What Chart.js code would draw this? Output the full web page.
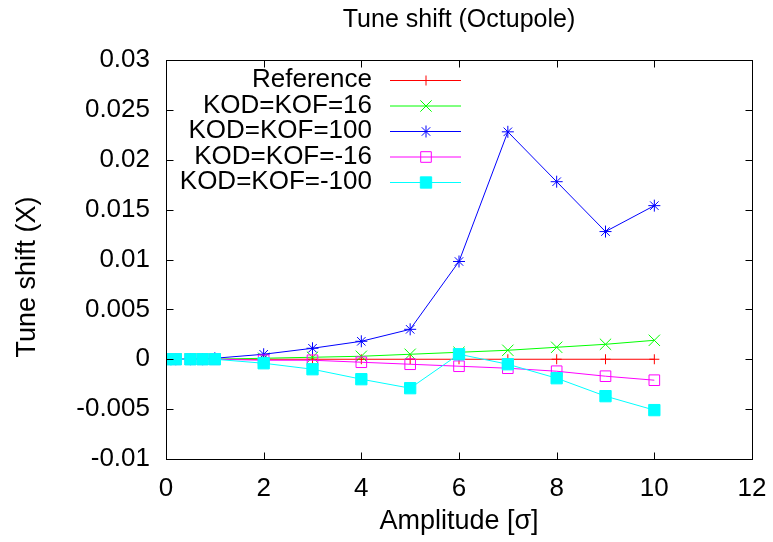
<!DOCTYPE html>
<html>
<head>
<meta charset="utf-8">
<title>Tune shift (Octupole)</title>
<script src="https://cdn.jsdelivr.net/npm/chart.js@4/dist/chart.umd.min.js"></script>
<style>
    body { margin: 0; background: #fff; }
    canvas { display: block; }
</style>
</head>
<body>
<canvas id="grafico" width="773" height="542"></canvas>
<script>
    // amplitude in units of sigma
    const amplitude = [0, 0.2, 0.5, 0.75, 1, 2, 3, 4, 5, 6, 7, 8, 9, 10];

    const reference = [0, 0, 0, 0, 0, 0, 0, 0, 0, 0, 0, 0, 0, 0];
    const kof16 = [0, 0, 0, 0, 0, 0.0001, 0.0002, 0.0003, 0.0005, 0.0007, 0.0009, 0.0012, 0.0015, 0.0019];
    const kof100 = [0, 0, 0, 0, 0.0001, 0.0005, 0.0011, 0.0018, 0.003, 0.0098, 0.0228, 0.0178, 0.0128, 0.0154];
    const kofMinus16 = [0, 0, 0, 0, 0, -0.0001, -0.0001, -0.0003, -0.0005, -0.0007, -0.0009, -0.0012, -0.0017, -0.0021];
    const kofMinus100 = [0, 0, 0, 0, 0, -0.0004, -0.001, -0.002, -0.0029, 0.0005, -0.0005, -0.0019, -0.0037, -0.0051];

    const yTitulo = 'Tune shift (X)';

    const fonte = '"Liberation Sans", Arial, Helvetica, sans-serif';

    function pontos(valores) {
        return amplitude.map((a, i) => ({ x: a, y: valores[i] }));
    }

    const data = {
        datasets: [{
            label: 'Reference',
            data: pontos(reference),
            borderColor: '#ff0000',
            backgroundColor: '#ff0000',
            pointStyle: 'cross',
            pointRadius: 5,
            order: 4,
        },
        {
            label: 'KOD=KOF=16',
            data: pontos(kof16),
            borderColor: '#00ff00',
            backgroundColor: '#00ff00',
            pointStyle: 'crossRot',
            pointRadius: 8,
            order: 3,
        },
        {
            label: 'KOD=KOF=100',
            data: pontos(kof100),
            borderColor: '#0000ff',
            backgroundColor: '#0000ff',
            pointStyle: 'star',
            pointRadius: 6,
            order: 2,
        },
        {
            label: 'KOD=KOF=-16',
            data: pontos(kofMinus16),
            borderColor: '#ff00ff',
            backgroundColor: 'rgba(0,0,0,0)',
            pointStyle: 'rect',
            pointRadius: 7.5,
            order: 1,
        },
        {
            label: 'KOD=KOF=-100',
            data: pontos(kofMinus100),
            borderColor: '#00ffff',
            backgroundColor: '#00ffff',
            pointStyle: 'rect',
            pointRadius: 8,
            order: 0,
        }]
    };

    // gnuplot style frame with inward ticks on all four sides
    const moldura = {
        id: 'moldura',
        afterDatasetsDraw(chart) {
            const ctx = chart.ctx;
            const a = chart.chartArea;
            const x = chart.scales.x;
            const y = chart.scales.y;
            const L = Math.round(a.left) + 0.5, R = Math.round(a.right) + 0.5;
            const T = Math.round(a.top) + 0.5, B = Math.round(a.bottom) + 0.5;
            ctx.save();
            ctx.strokeStyle = '#000';
            ctx.lineWidth = 1;
            ctx.beginPath();
            x.ticks.forEach(t => {
                const px = Math.round(x.getPixelForValue(t.value)) + 0.5;
                ctx.moveTo(px, B); ctx.lineTo(px, B - 7);
                ctx.moveTo(px, T); ctx.lineTo(px, T + 7);
            });
            y.ticks.forEach(t => {
                const py = Math.round(y.getPixelForValue(t.value)) + 0.5;
                ctx.moveTo(L, py); ctx.lineTo(L + 7, py);
                ctx.moveTo(R, py); ctx.lineTo(R - 7, py);
            });
            ctx.stroke();
            ctx.strokeRect(L, T, R - L, B - T);

            // y axis title, placed like gnuplot does it
            ctx.fillStyle = '#000';
            ctx.font = '27px ' + fonte;
            ctx.textAlign = 'center';
            ctx.textBaseline = 'middle';
            ctx.translate(28, 277);
            ctx.rotate(-Math.PI / 2);
            ctx.fillText(yTitulo, 0, 0);
            ctx.restore();
        }
    };

    // legend: right aligned text, sample line and marker on the right
    const legenda = {
        id: 'legenda',
        afterDraw(chart) {
            const ctx = chart.ctx;
            ctx.save();
            ctx.font = '26px ' + fonte;
            ctx.textAlign = 'right';
            ctx.textBaseline = 'middle';
            chart.data.datasets.forEach((ds, i) => {
                const yy = 80 + i * 25.5;
                ctx.fillStyle = '#000';
                ctx.fillText(ds.label, 372, yy);
                ctx.strokeStyle = ds.borderColor;
                ctx.fillStyle = ds.backgroundColor;
                ctx.lineWidth = 1;
                ctx.beginPath();
                ctx.moveTo(390, yy + 0.5);
                ctx.lineTo(461, yy + 0.5);
                ctx.stroke();
                Chart.helpers.drawPoint(ctx, {
                    pointStyle: ds.pointStyle,
                    radius: ds.pointRadius,
                    borderWidth: 1,
                    rotation: 0
                }, 426, yy + 0.5);
            });
            ctx.restore();
        }
    };

    const config = {
        type: 'line',
        data: data,
        options: {
            responsive: false,
            animation: false,
            layout: { padding: { top: 0, right: 21, bottom: 0, left: 0 } },
            elements: {
                line: { borderWidth: 1, tension: 0 },
                point: { borderWidth: 1, hoverRadius: 6 }
            },
            plugins: {
                legend: { display: false },
                tooltip: { enabled: false },
                title: {
                    display: true,
                    text: 'Tune shift (Octupole)',
                    fullSize: false,
                    color: '#000',
                    font: { family: fonte, size: 25, weight: 'normal' },
                    padding: { top: 5, bottom: 25 }
                }
            },
            scales: {
                x: {
                    type: 'linear',
                    min: 0,
                    max: 12,
                    ticks: {
                        stepSize: 2,
                        color: '#000',
                        padding: 14,
                        font: { family: fonte, size: 26 }
                    },
                    grid: { display: false, drawTicks: false },
                    border: { display: false },
                    title: {
                        display: true,
                        text: 'Amplitude [σ]',
                        color: '#000',
                        font: { family: fonte, size: 27 },
                        padding: { top: 0, bottom: 4 }
                    },
                    afterFit(scale) {
                        scale.height = 83;
                        scale.paddingLeft = 0;
                        scale.paddingRight = 0;
                    }
                },
                y: {
                    min: -0.01,
                    max: 0.03,
                    ticks: {
                        stepSize: 0.005,
                        color: '#000',
                        padding: 16,
                        font: { family: fonte, size: 26 },
                        callback: v => Number(v.toFixed(3)).toString()
                    },
                    grid: { display: false, drawTicks: false },
                    border: { display: false },
                    title: { display: false },
                    afterFit(scale) {
                        scale.width = 166;
                        scale.paddingTop = 0;
                        scale.paddingBottom = 0;
                    }
                }
            }
        },
        plugins: [moldura, legenda]
    };

    const grafico = new Chart(document.getElementById('grafico'), config);
</script>
</body>
</html>
